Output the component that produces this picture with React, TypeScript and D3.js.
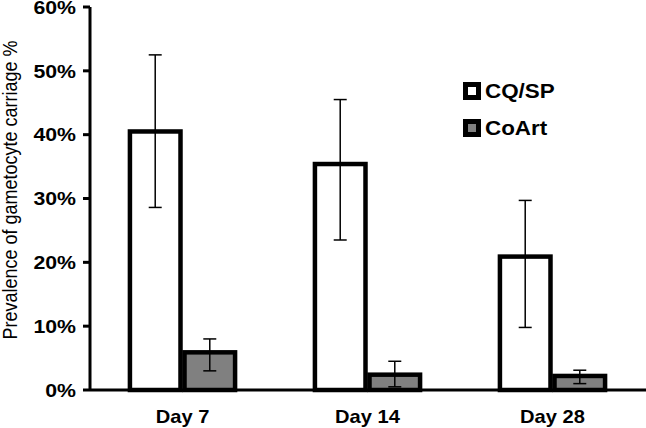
import React from "react";
import * as d3 from "d3";

const DAYS = ["Day 7", "Day 14", "Day 28"];
const SERIES = ["CQ/SP", "CoArt"];
const FILLS = ["#ffffff", "#808080"];

// values in %, with error bar lows/highs
const CQSP = [40.5, 35.4, 20.9];
const CQSP_LO = [28.6, 23.5, 9.8];
const CQSP_HI = [52.5, 45.5, 29.7];
const COART = [5.9, 2.4, 2.2];
const COART_LO = [3.0, 0.5, 1.0];
const COART_HI = [8.0, 4.5, 3.1];

const Y_TICKS = [0, 10, 20, 30, 40, 50, 60];

const W = 646;
const H = 428;
const margin = { top: 7, right: 1, bottom: 38, left: 90 };
const SX = 1.15; // the original text is a bit wide

export default function App() {
  const x0 = d3
    .scaleBand<string>()
    .domain(DAYS)
    .range([margin.left, W - margin.right]);
  const groupW = x0.bandwidth() * 0.59;
  const x1 = d3.scaleBand<string>().domain(SERIES).range([0, groupW]);
  const y = d3
    .scaleLinear()
    .domain([0, 60])
    .range([H - margin.bottom, margin.top]);

  const vals = [CQSP, COART];
  const lows = [CQSP_LO, COART_LO];
  const highs = [CQSP_HI, COART_HI];
  const font = "Liberation Sans, Arial, sans-serif";

  return (
    <svg
      width={W}
      height={H}
      style={{ position: "fixed", left: 0, top: 0, background: "#fff" }}
      fontFamily={font}
    >
      {/* bars */}
      {DAYS.map((day, i) => {
        const gx = x0(day)! + (x0.bandwidth() - groupW) / 2;
        return (
          <g key={day} transform={`translate(${gx},0)`}>
            {SERIES.map((s, j) => {
              const bx = x1(s)!;
              const v = vals[j][i];
              const cx = bx + x1.bandwidth() / 2;
              return (
                <g key={s}>
                  <rect
                    x={bx + 2}
                    y={y(v)}
                    width={x1.bandwidth() - 4}
                    height={y(0) - y(v)}
                    fill={FILLS[j]}
                    stroke="#000"
                    strokeWidth={4.5}
                  />
                  <line x1={cx} x2={cx} y1={y(lows[j][i])} y2={y(highs[j][i])} stroke="#000" strokeWidth={1.5} />
                  <line x1={cx - 6.5} x2={cx + 6.5} y1={y(highs[j][i])} y2={y(highs[j][i])} stroke="#000" strokeWidth={1.5} />
                  <line x1={cx - 6.5} x2={cx + 6.5} y1={y(lows[j][i])} y2={y(lows[j][i])} stroke="#000" strokeWidth={1.5} />
                </g>
              );
            })}
          </g>
        );
      })}

      {/* y axis */}
      <line x1={margin.left} x2={margin.left} y1={y(60)} y2={y(0)} stroke="#000" strokeWidth={3} />
      {Y_TICKS.map((t) => (
        <g key={t}>
          <line x1={margin.left - 7} x2={margin.left} y1={y(t)} y2={y(t)} stroke="#000" strokeWidth={3} />
          <text
            transform={`translate(${margin.left - 14},${y(t)}) scale(${SX},1)`}
            dy="0.36em"
            textAnchor="end"
            fontSize={18.5}
            fontWeight="bold"
          >
            {t}%
          </text>
        </g>
      ))}

      {/* x axis */}
      <line x1={margin.left} x2={W} y1={y(0)} y2={y(0)} stroke="#000" strokeWidth={3} />
      {DAYS.map((day) => (
        <text
          key={day}
          transform={`translate(${x0(day)! + x0.bandwidth() / 2},${H - 5}) scale(${SX},1)`}
          textAnchor="middle"
          fontSize={17.5}
          fontWeight="bold"
        >
          {day}
        </text>
      ))}

      {/* y label */}
      <text
        transform={`translate(16.5,190) scale(${SX},1) rotate(-90)`}
        textAnchor="middle"
        fontSize={18}
      >
        Prevalence of gametocyte carriage %
      </text>

      {/* legend */}
      {SERIES.map((s, j) => (
        <g key={s} transform={`translate(463,${82 + j * 37})`}>
          <rect x={0} y={0} width={18} height={18} fill="#000" />
          <rect x={5} y={5} width={8} height={8} fill={FILLS[j]} />
          <text transform={`translate(22,15.5) scale(${SX},1)`} fontSize={19.5} fontWeight="bold">
            {s}
          </text>
        </g>
      ))}
    </svg>
  );
}
